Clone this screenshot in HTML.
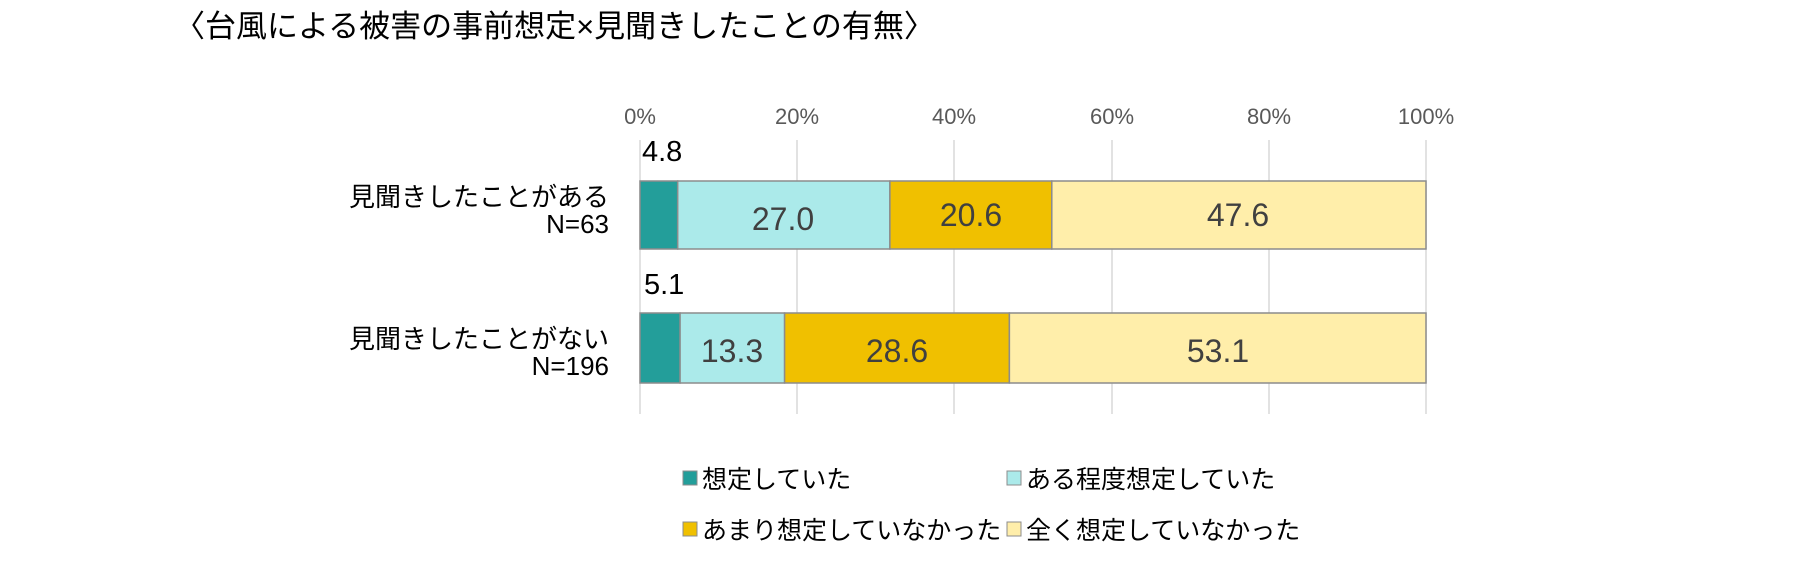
<!DOCTYPE html>
<html><head><meta charset="utf-8"><style>
html,body{margin:0;padding:0;background:#fff;}
svg{display:block;font-family:"Liberation Sans","Noto Sans CJK JP",sans-serif;}
</style></head><body>
<svg width="1819" height="565" viewBox="0 0 1819 565" xmlns="http://www.w3.org/2000/svg">
<text x="174" y="37" font-size="31" fill="#000">〈台風による被害の事前想定×見聞きしたことの有無〉</text>
<g fill="#595959" font-size="22" text-anchor="middle">
<text x="640" y="124">0%</text><text x="797" y="124">20%</text><text x="954" y="124">40%</text>
<text x="1112" y="124">60%</text><text x="1269" y="124">80%</text><text x="1426" y="124">100%</text>
</g>
<g stroke="#d9d9d9" stroke-width="1.5">
<line x1="640" y1="140" x2="640" y2="414"/><line x1="797" y1="140" x2="797" y2="414"/>
<line x1="954" y1="140" x2="954" y2="414"/><line x1="1112" y1="140" x2="1112" y2="414"/>
<line x1="1269" y1="140" x2="1269" y2="414"/><line x1="1426" y1="140" x2="1426" y2="414"/>
</g>
<g stroke="#8c8c8c" stroke-width="1.5">
<rect x="640" y="181" width="37.7" height="68" fill="#239E9A"/>
<rect x="677.7" y="181" width="212.2" height="68" fill="#ABEAEA"/>
<rect x="889.9" y="181" width="161.9" height="68" fill="#F0C000"/>
<rect x="1051.8" y="181" width="374.2" height="68" fill="#FFEEAA"/>
<rect x="640" y="313" width="40.1" height="70" fill="#239E9A"/>
<rect x="680.1" y="313" width="104.5" height="70" fill="#ABEAEA"/>
<rect x="784.6" y="313" width="224.8" height="70" fill="#F0C000"/>
<rect x="1009.4" y="313" width="416.6" height="70" fill="#FFEEAA"/>
</g>
<g fill="#404040" font-size="32" text-anchor="middle">
<text x="783" y="230">27.0</text><text x="971" y="226">20.6</text><text x="1238" y="226">47.6</text>
<text x="732" y="362">13.3</text><text x="897" y="362">28.6</text><text x="1218" y="362">53.1</text>
</g>
<g fill="#000" font-size="29">
<text x="642" y="161">4.8</text><text x="644" y="294">5.1</text>
</g>
<g fill="#000" font-size="26" text-anchor="end">
<text x="609" y="206">見聞きしたことがある</text><text x="609" y="233">N=63</text>
<text x="609" y="348">見聞きしたことがない</text><text x="609" y="375">N=196</text>
</g>
<g stroke="#8c8c8c" stroke-width="1">
<rect x="683" y="471" width="14" height="14" fill="#239E9A"/>
<rect x="1007" y="471" width="14" height="14" fill="#ABEAEA"/>
<rect x="683" y="522" width="14" height="14" fill="#F0C000"/>
<rect x="1007" y="522" width="14" height="14" fill="#FFEEAA"/>
</g>
<g fill="#000" font-size="25">
<text x="702" y="488">想定していた</text><text x="1026" y="488">ある程度想定していた</text>
<text x="702" y="539">あまり想定していなかった</text><text x="1026" y="539">全く想定していなかった</text>
</g>
</svg>
</body></html>
